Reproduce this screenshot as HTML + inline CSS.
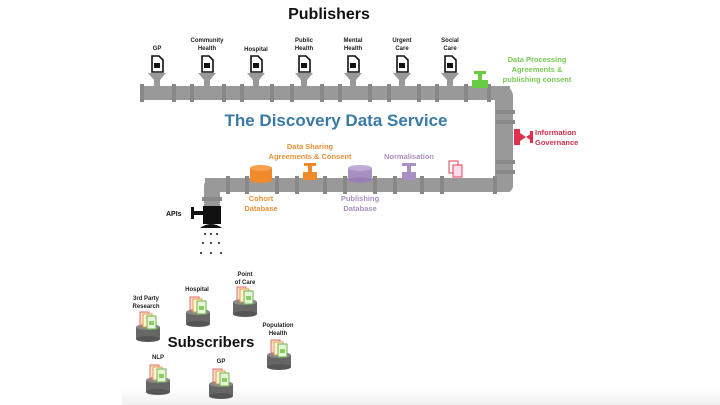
<html><body style="margin:0;background:#fff">
<svg width="720" height="405" viewBox="0 0 720 405" xmlns="http://www.w3.org/2000/svg" font-family="Liberation Sans, sans-serif" font-weight="bold">
<defs>
<linearGradient id="bg" x1="0" y1="0" x2="0" y2="1"><stop offset="0" stop-color="#fff"/><stop offset="1" stop-color="#f0f0f0"/></linearGradient>
<g id="doc"><path d="M-5,-8 h7 l4,4 v12 h-11 z" fill="#fff" stroke="#111" stroke-width="1.6"/><rect x="-3" y="-1" width="6" height="5" fill="#111"/></g>
<g id="can"><rect x="-12" y="0" width="24" height="12" fill="#666"/><ellipse cx="0" cy="12" rx="12" ry="3" fill="#555"/><ellipse cx="0" cy="0" rx="12" ry="3" fill="#888"/>
<rect x="-8" y="-15" width="9" height="13" fill="#fde0d6" stroke="#e07060" stroke-width="1"/><rect x="-5" y="-13" width="9" height="13" fill="#fff3d0" stroke="#e0a050" stroke-width="1"/><rect x="-1" y="-11" width="9" height="13" fill="#e6f6d8" stroke="#70b050" stroke-width="1"/><rect x="1" y="-6" width="5" height="4" fill="#8c6"/></g>
</defs>
<rect x="122" y="388" width="598" height="17" fill="url(#bg)"/>
<text x="329" y="19" font-size="16" text-anchor="middle" fill="#111">Publishers</text>
<g font-size="6" fill="#222" text-anchor="middle">
<text x="157" y="50">GP</text>
<text x="207" y="42">Community</text><text x="207" y="50">Health</text>
<text x="256" y="51">Hospital</text>
<text x="304" y="42">Public</text><text x="304" y="50">Health</text>
<text x="353" y="42">Mental</text><text x="353" y="50">Health</text>
<text x="402" y="42">Urgent</text><text x="402" y="50">Care</text>
<text x="450" y="42">Social</text><text x="450" y="50">Care</text>
</g>
<g fill="#999">
<rect x="140" y="86" width="370" height="14"/>
<path d="M495,86 h8 a10,10 0 0 1 10,10 v90 a6,6 0 0 1 -6,6 h-12 z"/>
<rect x="498" y="96" width="15" height="90"/>
<rect x="205" y="178" width="305" height="14"/>
<path d="M220,178 h-8 a8,8 0 0 0 -8,8 v36 h16 z"/>
</g>
<g fill="#888">
<rect x="140" y="84" width="4" height="18"/>
<rect x="172" y="84" width="4" height="18"/><rect x="190" y="84" width="4" height="18"/><rect x="222" y="84" width="4" height="18"/>
<rect x="240" y="84" width="4" height="18"/><rect x="270" y="84" width="4" height="18"/><rect x="290" y="84" width="4" height="18"/><rect x="320" y="84" width="4" height="18"/>
<rect x="338" y="84" width="4" height="18"/><rect x="368" y="84" width="4" height="18"/><rect x="387" y="84" width="4" height="18"/><rect x="417" y="84" width="4" height="18"/>
<rect x="435" y="84" width="4" height="18"/><rect x="464" y="84" width="4" height="18"/><rect x="487" y="84" width="4" height="18"/>
<rect x="496" y="110" width="19" height="4"/><rect x="496" y="120" width="19" height="4"/><rect x="496" y="160" width="19" height="4"/><rect x="496" y="170" width="19" height="4"/>
<rect x="493" y="176" width="4" height="18"/><rect x="440" y="176" width="4" height="18"/><rect x="420" y="176" width="4" height="18"/><rect x="393" y="176" width="4" height="18"/><rect x="373" y="176" width="4" height="18"/><rect x="343" y="176" width="4" height="18"/><rect x="323" y="176" width="4" height="18"/><rect x="295" y="176" width="4" height="18"/><rect x="275" y="176" width="4" height="18"/><rect x="245" y="176" width="4" height="18"/><rect x="226" y="176" width="4" height="18"/>
<rect x="202" y="197" width="20" height="4"/>
</g>
<g>
<g transform="translate(157,0)"><path d="M-9,73 h18 l-6,7 v6 h-6 v-6 z" fill="#999"/><use href="#doc" transform="translate(0,64)"/></g>
<g transform="translate(207,0)"><path d="M-9,73 h18 l-6,7 v6 h-6 v-6 z" fill="#999"/><use href="#doc" transform="translate(0,64)"/></g>
<g transform="translate(256,0)"><path d="M-9,73 h18 l-6,7 v6 h-6 v-6 z" fill="#999"/><use href="#doc" transform="translate(0,64)"/></g>
<g transform="translate(304,0)"><path d="M-9,73 h18 l-6,7 v6 h-6 v-6 z" fill="#999"/><use href="#doc" transform="translate(0,64)"/></g>
<g transform="translate(353,0)"><path d="M-9,73 h18 l-6,7 v6 h-6 v-6 z" fill="#999"/><use href="#doc" transform="translate(0,64)"/></g>
<g transform="translate(402,0)"><path d="M-9,73 h18 l-6,7 v6 h-6 v-6 z" fill="#999"/><use href="#doc" transform="translate(0,64)"/></g>
<g transform="translate(450,0)"><path d="M-9,73 h18 l-6,7 v6 h-6 v-6 z" fill="#999"/><use href="#doc" transform="translate(0,64)"/></g>
</g>
<rect x="472" y="80" width="16" height="8" fill="#6c4"/><rect x="478" y="74" width="4" height="7" fill="#6c4"/><rect x="474" y="71" width="12" height="3" fill="#6c4"/>
<g font-size="7.5" fill="#7c5" text-anchor="middle"><text x="537" y="62">Data Processing</text><text x="537" y="72">Agreements &amp;</text><text x="537" y="82">publishing consent</text></g>
<text x="336" y="126" font-size="17" fill="#3a7aa6" text-anchor="middle">The Discovery Data Service</text>
<rect x="514" y="129" width="6" height="16" fill="#e03050"/><path d="M520,133 l6,4 -6,4z M532,133 l-6,4 6,4z" fill="#e03050"/><rect x="530" y="131" width="3" height="12" fill="#e03050"/>
<g font-size="7.5" fill="#d03050"><text x="535" y="135">Information</text><text x="535" y="145">Governance</text></g>
<g font-size="7.5" fill="#e8903a" text-anchor="middle"><text x="310" y="149">Data Sharing</text><text x="310" y="159">Agreements &amp; Consent</text><text x="261" y="201">Cohort</text><text x="261" y="211">Database</text></g>
<rect x="250" y="168" width="22" height="12" fill="#f08a2a"/><ellipse cx="261" cy="180" rx="11" ry="3" fill="#f08a2a"/><ellipse cx="261" cy="168" rx="11" ry="3" fill="#f5a050"/>
<rect x="303" y="172" width="14" height="8" fill="#f08a2a"/><rect x="308" y="166" width="4" height="6" fill="#f08a2a"/><rect x="304" y="163" width="12" height="3" fill="#f08a2a"/>
<g font-size="7.5" fill="#a890c0" text-anchor="middle"><text x="360" y="201">Publishing</text><text x="360" y="211">Database</text><text x="409" y="159">Normalisation</text></g>
<rect x="348" y="168" width="24" height="12" fill="#a890c0"/><ellipse cx="360" cy="180" rx="12" ry="3" fill="#9a80b4"/><ellipse cx="360" cy="168" rx="12" ry="3" fill="#c0aad6"/>
<rect x="402" y="172" width="14" height="8" fill="#a890c0"/><rect x="407" y="166" width="4" height="6" fill="#a890c0"/><rect x="402" y="163" width="14" height="3" fill="#a890c0"/>
<rect x="449" y="161" width="9" height="12" fill="#fff" stroke="#e04050" stroke-width="1"/><rect x="453" y="165" width="9" height="12" fill="#fde" stroke="#e04050" stroke-width="1"/>
<text x="166" y="216" font-size="7" fill="#111">APIs</text>
<rect x="191" y="207" width="3" height="12" fill="#111"/><rect x="194" y="211" width="10" height="4" fill="#111"/><rect x="203" y="206" width="18" height="18" fill="#111"/>
<path d="M200,228 q11,-8 22,0 z" fill="#111"/>
<g fill="#111"><circle cx="205" cy="234" r="1"/><circle cx="211" cy="234" r="1"/><circle cx="217" cy="234" r="1"/><circle cx="203" cy="243" r="1"/><circle cx="211" cy="243" r="1"/><circle cx="219" cy="243" r="1"/><circle cx="201" cy="253" r="1"/><circle cx="211" cy="253" r="1"/><circle cx="221" cy="253" r="1"/></g>
<text x="211" y="347" font-size="15" fill="#111" text-anchor="middle">Subscribers</text>
<g font-size="6" fill="#222" text-anchor="middle">
<text x="146" y="300">3rd Party</text><text x="146" y="308">Research</text>
<text x="197" y="291">Hospital</text>
<text x="245" y="276">Point</text><text x="245" y="284">of Care</text>
<text x="278" y="327">Population</text><text x="278" y="335">Health</text>
<text x="158" y="359">NLP</text>
<text x="221" y="363">GP</text>
</g>
<use href="#can" transform="translate(148,327)"/>
<use href="#can" transform="translate(198,312)"/>
<use href="#can" transform="translate(245,302)"/>
<use href="#can" transform="translate(279,355)"/>
<use href="#can" transform="translate(158,380)"/>
<use href="#can" transform="translate(221,384)"/>
</svg>
</body></html>
